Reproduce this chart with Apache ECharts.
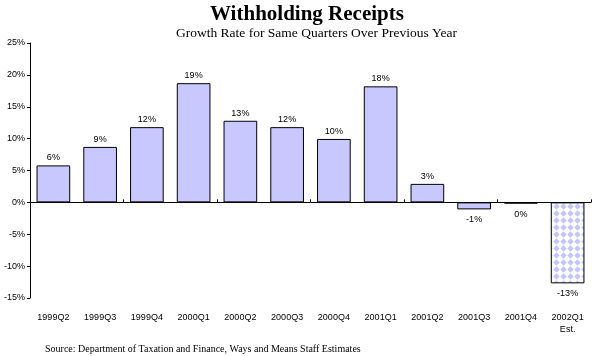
<!DOCTYPE html>
<html><head><meta charset="utf-8">
<script src="https://cdn.jsdelivr.net/npm/echarts@6/dist/echarts.min.js"></script>
<style>html,body{margin:0;padding:0;background:#fff}#c{width:595px;height:356px}</style>
</head><body><div id="c"></div>
<script>
const categories = ['1999Q2','1999Q3','1999Q4','2000Q1','2000Q2','2000Q3','2000Q4','2001Q1','2001Q2','2001Q3','2001Q4','2002Q1\nEst.'];
const values = [5.8, 8.7, 11.8, 18.7, 12.8, 11.8, 9.95, 18.2, 2.9, -1.1, -0.2, -12.7];
const labels = ['6%','9%','12%','19%','13%','12%','10%','18%','3%','-1%','0%','-13%'];
const estimated = [false,false,false,false,false,false,false,false,false,false,false,true];

function makePattern(){
  const c = document.createElement('canvas');
  c.width = 7; c.height = 7;
  const g = c.getContext('2d');
  g.fillStyle = '#ffffff'; g.fillRect(0,0,7,7);
  g.fillStyle = '#c4c4ff';
  g.beginPath();
  g.moveTo(3.5,0.3); g.lineTo(6.7,3.5); g.lineTo(3.5,6.7); g.lineTo(0.3,3.5); g.closePath();
  g.fill();
  return c;
}
const pat = {image: makePattern(), repeat: 'repeat'};

const chart = echarts.init(document.getElementById('c'));
const data = values.map((v,i)=>({
  value: v,
  itemStyle: estimated[i] ? {color: pat, borderColor:'#000', borderWidth:1} : undefined,
  label: {position: v < 0 ? 'bottom' : 'top', distance: v < 0 ? 6 : 3, formatter: labels[i]}
}));
chart.setOption({
  animation:false,
  title:[
    {text:'Withholding Receipts', left:205, top:-1, textStyle:{fontFamily:'Liberation Serif', fontWeight:'bold', fontSize:21, color:'#000'}},
    {text:'Growth Rate for Same Quarters Over Previous Year', left:171, top:21, textStyle:{fontFamily:'Liberation Serif', fontWeight:'normal', fontSize:13.5, color:'#000'}},
    {text:'Source: Department of Taxation and Finance, Ways and Means Staff Estimates', left:40, top:339, textStyle:{fontFamily:'Liberation Serif', fontWeight:'normal', fontSize:10, color:'#000'}}
  ],
  grid:{left:30, right:4, top:43, bottom:58},
  xAxis:[
    {type:'category', data:categories, position:'bottom',
     axisLine:{onZero:true, lineStyle:{color:'#000', width:1}},
     axisTick:{show:true, inside:true, length:3, lineStyle:{color:'#000'}},
     axisLabel:{show:false}},
    {type:'category', data:categories, position:'bottom',
     axisLine:{show:false, onZero:false}, axisTick:{show:false},
     axisLabel:{show:true, margin:14, fontFamily:'Liberation Sans', fontSize:9, color:'#000', lineHeight:12, interval:0}}
  ],
  yAxis:{type:'value', min:-15, max:25, interval:5,
    axisLine:{show:true, lineStyle:{color:'#000'}},
    axisTick:{show:true, length:3, lineStyle:{color:'#000'}},
    splitLine:{show:false},
    axisLabel:{formatter:'{value}%', fontFamily:'Liberation Sans', fontSize:9, color:'#000', margin:5}},
  series:[{type:'bar', xAxisIndex:0, data:data, barCategoryGap:'28%',
    itemStyle:{color:'#c8c8ff', borderColor:'#000', borderWidth:1},
    label:{show:true, fontFamily:'Liberation Sans', fontSize:9, color:'#000'}}]
});
</script></body></html>
